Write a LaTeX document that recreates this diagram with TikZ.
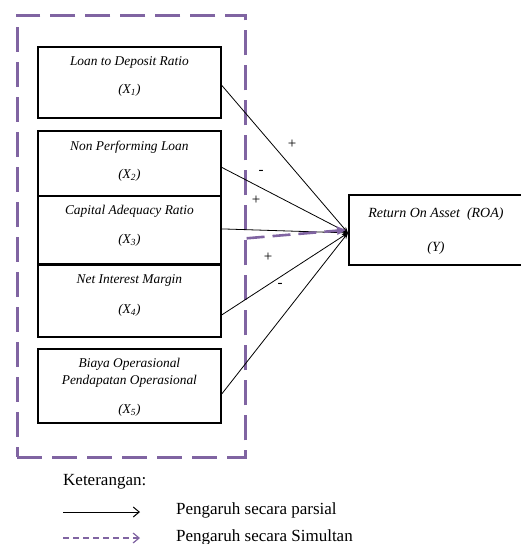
\documentclass[tikz,border=0pt]{standalone}
\usepackage{fontspec}
\setmainfont{Liberation Serif}
\usepackage{xcolor}
\definecolor{cLine}{HTML}{000000}
\definecolor{cSim}{HTML}{8064A2}
\usepackage{tikz}
\usetikzlibrary{positioning,arrows.meta,calc}
% parbox for the variable boxes: height, width, first baseline, text
\newcommand{\vartxt}[4]{\parbox[t][#1][t]{#2}{\centering\rule{0pt}{#3}#4}}
\tikzset{
  node-var/.style={draw=cLine,line width=1.8pt,inner sep=0pt,anchor=north west,
    font=\fontsize{13.4}{16}\selectfont\itshape},
  node-frame/.style={draw=cSim,line width=2.6pt,dash pattern=on 25pt off 10pt,
    inner sep=0pt,anchor=north west},
  node-sign/.style={font=\fontsize{15}{17}\selectfont,inner sep=0pt},
  node-note/.style={font=\fontsize{17}{20}\selectfont,inner sep=0pt,anchor=west},
  arrow/.style={-{Stealth[length=6pt,width=4.5pt]},line width=0.8pt,draw=cLine},
  arrow-sim/.style={-{Triangle[length=9pt,width=8pt]},line width=2.6pt,
    dash pattern=on 18pt off 8pt,draw=cSim},
  arrow-key/.style={-{Straight Barb[length=6pt,width=10pt]},line width=1pt,draw=cLine},
  arrow-key-sim/.style={-{Straight Barb[length=6pt,width=10pt]},line width=1.2pt,
    dash pattern=on 6pt off 4pt,draw=cSim},
}
\begin{document}
\begin{tikzpicture}[x=1pt,y=-1pt]
  \useasboundingbox (0,0) rectangle (520,544);
  \node[node-frame,minimum width=228pt,minimum height=442pt] (grp) at (16,14) {};
  \node[node-var] (x1) at (37,46)
    {\vartxt{71pt}{183pt}{18.5pt}{Loan to Deposit Ratio\\[12pt](X\textsubscript{1})}};
  \node[node-var] (x2) at (37,130)
    {\vartxt{65pt}{183pt}{19.5pt}{Non Performing Loan\\[12pt](X\textsubscript{2})}};
  \node[node-var] (x3) at (37,195)
    {\vartxt{68pt}{183pt}{18.5pt}{Capital Adequacy Ratio\\[13pt](X\textsubscript{3})}};
  \node[node-var] (x4) at (37,264)
    {\vartxt{72pt}{183pt}{18.5pt}{Net Interest Margin\\[14pt](X\textsubscript{4})}};
  \node[node-var] (x5) at (37,348)
    {\vartxt{74pt}{183pt}{18.5pt}{Biaya Operasional\\[1pt]Pendapatan Operasional\\[13pt](X\textsubscript{5})}};
  \node[node-var,font=\fontsize{14}{16}\selectfont\itshape] (y) at (348,194)
    {\vartxt{70pt}{174pt}{22.5pt}{Return On Asset\ \ (ROA)\\[18pt](Y)}};
  \coordinate (tgt) at ([yshift=-3pt]y.west);
  \draw[arrow] ([yshift=-3pt]x1.east) -- (tgt);
  \draw[arrow] ([yshift=-4pt]x2.east) -- (tgt);
  \draw[arrow] ([yshift=1pt]x3.east) -- (tgt);
  \draw[arrow] ([yshift=-14pt]x4.east) -- (tgt);
  \draw[arrow] ([yshift=-8pt]x5.east) -- (tgt);
  \draw[arrow-sim] ([yshift=-2pt]grp.east) -- ([xshift=-2pt]y.west);
  \node[node-sign] (s1) at (292,144) {+};
  \node[node-sign] (s2) at (261,172) {-};
  \node[node-sign] (s3) at (256,200) {+};
  \node[node-sign] (s4) at (268,257) {+};
  \node[node-sign] (s5) at (280,285) {-};
  % keterangan
  \node[node-note] (ket) at (63,482) {Keterangan:};
  \coordinate (k1a) at (63,512);
  \coordinate (k1b) at (140,512);
  \coordinate (k2a) at (63,538);
  \coordinate (k2b) at (140,538);
  \draw[arrow-key] (k1a) -- (k1b);
  \draw[arrow-key-sim] (k2a) -- (k2b);
  \node[node-note] (par) at (176,510) {Pengaruh secara parsial};
  \node[node-note] (sim) at (176,537) {Pengaruh secara Simultan};
\end{tikzpicture}
\end{document}
